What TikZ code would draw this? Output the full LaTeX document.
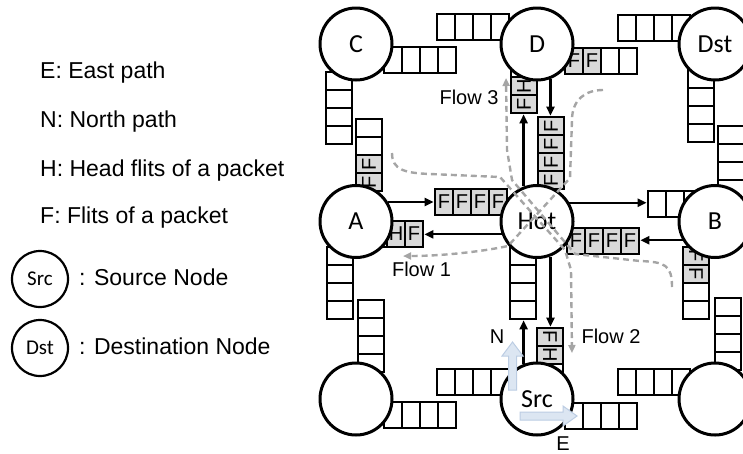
\documentclass[tikz,border=0pt]{standalone}
\usepackage{fontspec}
\usepackage{graphicx}
\setmainfont{Liberation Sans}
\newfontfamily\calibri{Carlito}
\usetikzlibrary{arrows.meta}

\definecolor{flitfill}{HTML}{D9D9D9}
\definecolor{flowgray}{HTML}{A5A5A5}
\definecolor{dirfill}{HTML}{DCE6F2}
\definecolor{dirline}{HTML}{BCCDE3}

\tikzset{
  router/.style={circle, draw, line width=3pt, fill=white, minimum size=72pt,
    inner sep=0pt, font=\calibri\fontsize{26}{30}\selectfont},
  keynode/.style={router, minimum size=56pt, line width=2.2pt,
    font=\calibri\fontsize{21}{25}\selectfont},
  hcell/.style={draw, line width=2.7pt, fill=white, minimum width=18pt,
    minimum height=26pt, inner sep=0pt, font=\fontsize{20}{24}\selectfont},
  vcell/.style={hcell, minimum width=26pt, minimum height=18pt},
  busy/.style={fill=flitfill},
  link/.style={line width=2.2pt, -{Triangle[length=9pt,width=8pt]}},
  flowline/.style={flowgray, line width=2.4pt, dash pattern=on 6pt off 4pt,
    -{Triangle[length=8pt,width=7pt]}},
  flowlabel/.style={font=\fontsize{20}{24}\selectfont},
  keytext/.style={anchor=base west, inner sep=0pt, font=\fontsize{23}{27}\selectfont},
}

\def\nofl{-}
% horizontal buffer: name, left x, top y, flits
\newcommand{\hbuf}[4]{%
  \foreach \fl [count=\i] in {#4} {
    \ifx\fl\nofl
      \node[hcell] (#1-\i) at ({#2+18*\i-9},{#3+13}) {};
    \else
      \node[hcell, busy] (#1-\i) at ({#2+18*\i-9},{#3+13}) {\fl};
    \fi
  }%
}
% vertical buffer: name, left x, top y, text angle, flits
\newcommand{\vbuf}[5]{%
  \foreach \fl [count=\i] in {#5} {
    \ifx\fl\nofl
      \node[vcell] (#1-\i) at ({#2+13},{#3+18*\i-9}) {};
    \else
      \node[vcell, busy] (#1-\i) at ({#2+13},{#3+18*\i-9}) {\rotatebox{#4}{\fl}};
    \fi
  }%
}

\begin{document}
\begin{tikzpicture}[x=1pt, y=-1pt]
  \useasboundingbox (0,0) rectangle (743,453);

  % Legend
  \node[keytext] (keyE) at (40,78) {E: East path};
  \node[keytext] (keyN) at (40,127) {N: North path};
  \node[keytext] (keyH) at (40,176) {H: Head flits of a packet};
  \node[keytext] (keyF) at (40,223) {F: Flits of a packet};
  \node[keynode] (keySrc) at (40,279) {Src};
  \node[keytext] (keySrcTxt) at (79,285) {: Source Node};
  \node[keynode] (keyDst) at (40,348) {Dst};
  \node[keytext] (keyDstTxt) at (79,354) {: Destination Node};

  % Buffers, top row
  \hbuf{cE}{384}{47}{-,-,-,-}
  \hbuf{dW}{437}{14}{-,-,-,-}
  \hbuf{dE}{565}{48}{F,F,-,-}
  \hbuf{dstW}{618}{15}{-,-,-,-}
  \vbuf{cS}{326}{72}{90}{-,-,-,-}
  \vbuf{dS}{511}{41}{90}{-,-,H,F}
  \vbuf{dstS}{688}{70}{90}{-,-,-,-}

  % Buffers, middle row
  \vbuf{aN}{356}{119}{90}{-,-,F,F}
  \vbuf{hotN}{538}{117}{90}{F,F,F,F}
  \vbuf{bN}{718}{126}{90}{-,-,-,-}
  \hbuf{aE}{351}{221}{-,-,H,F}
  \hbuf{hotW}{435}{189}{F,F,F,F}
  \hbuf{hotE}{567}{228}{F,F,F,F}
  \hbuf{bW}{648}{191}{-,-,-,-}
  \vbuf{aS}{327}{247}{90}{-,-,-,-}
  \vbuf{hotS}{510}{247}{90}{-,-,-,-}
  \vbuf{bS}{683}{247}{-90}{F,F,-,-}

  % Buffers, bottom row
  \vbuf{swN}{358}{300}{90}{-,-,-,-}
  \vbuf{srcN}{537}{328}{-90}{F,H,-,-}
  \vbuf{seN}{715}{298}{90}{-,-,-,-}
  \hbuf{swE}{384}{402}{-,-,-,-}
  \hbuf{srcW}{437}{369}{-,-,-,-}
  \hbuf{srcE}{565}{403}{-,-,-,-}
  \hbuf{seW}{618}{369}{-,-,-,-}

  % Routers
  \node[router] (C) at (356,44) {C};
  \node[router] (D) at (537,44) {D};
  \node[router] (Dst) at (715,44) {Dst};
  \node[router] (A) at (356,221.5) {A};
  \node[router] (Hot) at (537,221.5) {Hot};
  \node[router] (B) at (715,221.5) {B};
  \node[router] (SW) at (356,399) {};
  \node[router] (Src) at (537,399) {Src};
  \node[router] (SE) at (715,399) {};

  % Links around the hot router
  \draw[link] (hotW-1.west -| A.30) -- (hotW-1.west);
  \draw[link] (Hot.200) -- (Hot.200 -| aE-4.east);
  \draw[link] (Hot.30) -- (Hot.30 -| bW-1.west);
  \draw[link] (B.210) -- (B.210 -| hotE-4.east);
  \draw[link] (Hot.111) -- (Hot.111 |- dS-4.south);
  \draw[link] (D.-69) -- (D.-69 |- hotN-1.north);
  \draw[link] (Src.111) -- (Src.111 |- hotS-4.south);
  \draw[link] (Hot.-69) -- (Hot.-69 |- srcN-1.north);

  % Flows
  \draw[flowline] (603,90) .. controls (585,90) and (572,100) .. (572,120)
    -- (570,178) -- (508,246) .. controls (480,252) and (440,256) .. (403,256);
  \draw[flowline] (392,153) .. controls (392,170) and (405,173) .. (430,174)
    -- (500,177) -- (565,250) -- (571,270) -- (572,353);
  \draw[flowline] (672,287) .. controls (672,265) and (665,262) .. (640,261)
    -- (575,254) -- (512,180) -- (507,150) -- (506,78);
  \node[flowlabel] (fl1) at (421.5,269.5) {Flow 1};
  \node[flowlabel] (fl2) at (611,336) {Flow 2};
  \node[flowlabel] (fl3) at (469,97.5) {Flow 3};

  % North and east paths of the source
  \filldraw[fill=dirfill, draw=dirline, line width=1pt] (508.5,390) -- (508.5,356)
    -- (502,356) -- (512.5,342) -- (523,356) -- (516.5,356) -- (516.5,390) -- cycle;
  \filldraw[fill=dirfill, draw=dirline, line width=1pt] (520,412) -- (563,412)
    -- (563,406) -- (577,416) -- (563,426) -- (563,420) -- (520,420) -- cycle;
  \node[flowlabel] (labN) at (497,336.5) {N};
  \node[flowlabel, anchor=base, inner sep=0pt] (labE) at (563,450) {E};
\end{tikzpicture}
\end{document}
